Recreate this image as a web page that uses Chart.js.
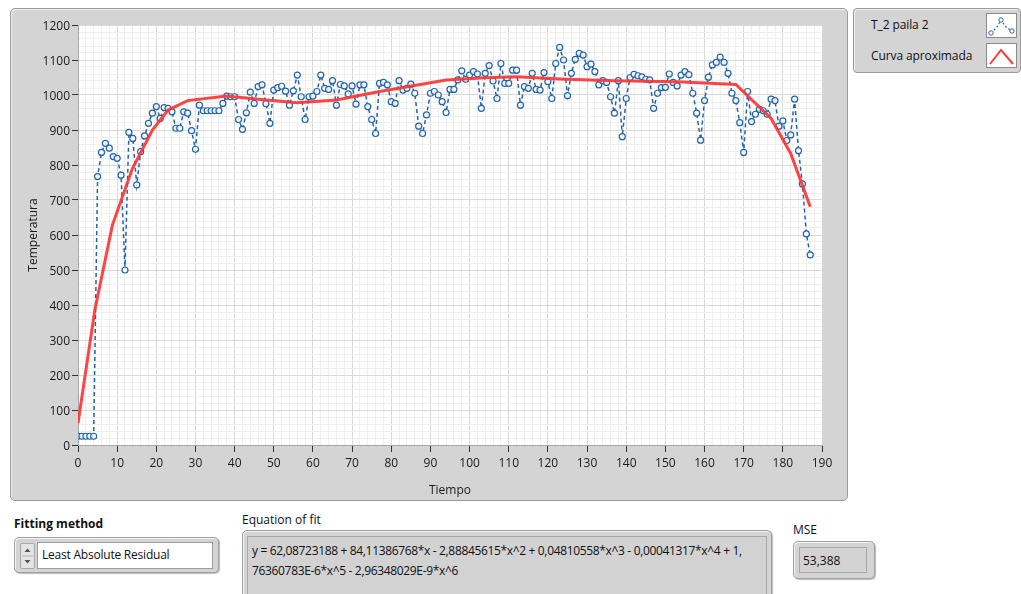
<!DOCTYPE html>
<html>
<head>
<meta charset="utf-8">
<script src="https://cdn.jsdelivr.net/npm/chart.js@4.4.1/dist/chart.umd.min.js"></script>
<style>
  body { margin: 0; background: #fff; font-family: "Open Sans", "Noto Sans", sans-serif; font-size: 12px; color: #111; }
  .abs { position: absolute; }
  #panel { left: 10px; top: 8px; width: 836px; height: 491px; background: #d4d4d4; border: 1px solid #9a9a9a; border-radius: 5px; box-shadow: inset 1px 1px 0 #efefef; }
  #chartWrap { left: 10px; top: 8px; width: 838px; height: 493px; }
  #legend { left: 853px; top: 8px; width: 166px; height: 63px; background: #d4d4d4; border: 1px solid #9a9a9a; border-radius: 4px; box-shadow: inset 1px 1px 0 #efefef; }
  .lgTxt { position: absolute; left: 17px; font-size: 12px; letter-spacing: -0.1px; }
  .lgIcon { position: absolute; left: 132px; width: 29px; height: 23px; background: #fff; border: 1px solid #8a8a8a; }
  .frame { background: #d4d4d4; border: 1px solid #a0a0a0; border-radius: 5px; box-shadow: inset 1px 1px 0 #f4f4f4, 1px 1px 1px #bbb; }
  .field { background: #fff; border: 1px solid #9c9c9c; }
  .lbl { font-size: 12px; }
</style>
</head>
<body>
<div id="panel" class="abs"></div>
<div id="chartWrap" class="abs"><canvas id="cFit" width="838" height="493"></canvas></div>

<div id="legend" class="abs">
  <div class="lgTxt" style="top:7px">T_2 paila 2</div>
  <div class="lgIcon" style="top:4px">
    <svg width="29" height="23"><polyline points="4,19 10,13 14,6 19,13 25,17" fill="none" stroke="#2a6aad" stroke-width="1.2" stroke-dasharray="2,2"/><circle cx="4" cy="19" r="2.2" fill="#fff" stroke="#2a6aad"/><circle cx="14" cy="6" r="2.2" fill="#fff" stroke="#2a6aad"/><circle cx="25" cy="17" r="2.2" fill="#fff" stroke="#2a6aad"/></svg>
  </div>
  <div class="lgTxt" style="top:38px">Curva aproximada</div>
  <div class="lgIcon" style="top:34px">
    <svg width="29" height="23"><polyline points="3,20 14,6 26,20" fill="none" stroke="#ff3a3a" stroke-width="2"/></svg>
  </div>
</div>

<div class="abs lbl" style="left:14px;top:515px;font-weight:bold">Fitting method</div>
<div class="abs frame" style="left:14px;top:537px;width:203px;height:34px"></div>
<div class="abs" style="left:20px;top:543px;width:13px;height:24px;background:#e4e4e4;border:1px solid #a8a8a8;border-radius:2px">
  <svg width="13" height="24"><path d="M3.5,8 L6.5,4.5 L9.5,8 Z" fill="#555"/><line x1="1" y1="12" x2="12" y2="12" stroke="#b0b0b0"/><path d="M3.5,16 L6.5,19.5 L9.5,16 Z" fill="#555"/></svg>
</div>
<div class="abs field" style="left:37px;top:542px;width:174px;height:25px"></div>
<div class="abs lbl" style="left:42px;top:546px;letter-spacing:-0.22px">Least Absolute Residual</div>

<div class="abs lbl" style="left:242px;top:511px">Equation of fit</div>
<div class="abs frame" style="left:242px;top:530px;width:528px;height:70px"></div>
<div class="abs" style="left:247px;top:536px;width:518px;height:60px;background:#d2d2d2;border:1px solid #a8a8a8"></div>
<div class="abs lbl" id="eqTxt" style="left:252px;top:541px;line-height:20px;white-space:pre;letter-spacing:-0.34px">y = 62,08723188 + 84,11386768*x - 2,88845615*x^2 + 0,04810558*x^3 - 0,00041317*x^4 + 1,
76360783E-6*x^5 - 2,96348029E-9*x^6</div>

<div class="abs lbl" style="left:793px;top:521px">MSE</div>
<div class="abs frame" style="left:793px;top:541px;width:80px;height:36px"></div>
<div class="abs" style="left:799px;top:547px;width:66px;height:24px;background:#d2d2d2;border:1px solid #a8a8a8"></div>
<div class="abs lbl" style="left:803px;top:552px">53,388</div>

<script>
// T_2 paila 2, one reading per unit of time (0..187)
const temps = [
  25, 25, 25, 25, 25, 767, 836, 862, 848, 824,
  819, 771, 500, 893, 876, 743, 838, 883, 919, 948,
  967, 933, 964, 962, 952, 905, 905, 952, 948, 898,
  845, 971, 955, 955, 955, 955, 955, 976, 997, 995,
  995, 930, 902, 949, 1008, 976, 1024, 1029, 975, 919,
  1014, 1021, 1025, 1011, 971, 1012, 1057, 995, 930, 995,
  997, 1010, 1057, 1019, 1016, 1041, 971, 1030, 1026, 1003,
  1026, 974, 1029, 1029, 967, 930, 890, 1033, 1036, 1029,
  981, 976, 1041, 1014, 1019, 1031, 1005, 911, 890, 943,
  1005, 1010, 1000, 981, 950, 1016, 1016, 1043, 1069, 1045,
  1057, 1067, 1060, 962, 1062, 1084, 1040, 990, 1090, 1033,
  1033, 1071, 1071, 971, 1024, 1019, 1062, 1016, 1014, 1064,
  1038, 990, 1090, 1136, 1100, 998, 1062, 1102, 1119, 1114,
  1081, 1088, 1067, 1029, 1041, 1036, 995, 948, 1041, 881,
  990, 1050, 1059, 1055, 1052, 1045, 1043, 962, 1005, 1021,
  1022, 1060, 1036, 1026, 1057, 1067, 1058, 1005, 948, 871,
  984, 1051, 1086, 1093, 1108, 1093, 1062, 1005, 984, 921,
  836, 1010, 924, 945, 959, 955, 945, 988, 984, 911,
  926, 870, 886, 988, 841, 746, 603, 543
];

// Curva aproximada, vertices
const fitX = [0, 4.3, 8.8, 13.9, 19, 23, 28, 38, 46, 56, 66, 77, 90, 94, 104, 112, 123, 137, 153, 168, 177, 182, 187];
const fitY = [62, 386, 629, 790, 900, 957, 984, 997, 988, 978, 986, 1010, 1035, 1043, 1049, 1052, 1046, 1041, 1038, 1030, 933, 833, 681];

const xTicks = [0, 10, 20, 30, 40, 50, 60, 70, 80, 90, 100, 110, 120, 130, 140, 150, 160, 170, 180, 190];
const yTicks = [0, 100, 200, 300, 400, 500, 600, 700, 800, 900, 1000, 1100, 1200];

const BLUE = '#2364a8';
const RED = 'rgba(255,52,52,0.92)';
const txt = '#1a1a1a';
const isMajor = (v, list) => list.includes(Math.round(v * 1000) / 1000);

const plotBg = {
  id: 'plotBg',
  beforeDraw(chart) {
    const { ctx, chartArea: a } = chart;
    ctx.save();
    ctx.fillStyle = '#ffffff';
    ctx.fillRect(a.left, a.top, a.right - a.left, a.bottom - a.top);
    ctx.restore();
  }
};

new Chart(document.getElementById('cFit'), {
  type: 'line',
  data: {
    datasets: [
      {
        label: 'Curva aproximada',
        data: fitX.map((x, i) => ({ x, y: fitY[i] })),
        borderColor: RED, borderWidth: 3, pointRadius: 0, tension: 0, order: 0,
      },
      {
        label: 'T_2 paila 2',
        data: temps.map((y, x) => ({ x, y })),
        borderColor: BLUE, borderWidth: 1.5, borderDash: [4, 3], tension: 0,
        pointRadius: 3, pointBorderWidth: 1.2, pointBorderColor: BLUE, pointBackgroundColor: 'rgba(255,255,255,0.85)',
        order: 1,
      },
    ],
  },
  options: {
    responsive: false, animation: false,
    layout: { padding: { top: 17, right: 26, left: 0, bottom: 0 } },
    plugins: { legend: { display: false }, tooltip: { enabled: false } },
    scales: {
      x: {
        type: 'linear', min: 0, max: 190,
        afterFit: s => { s.height = 56; },
        title: { display: true, text: 'Tiempo', color: txt, font: { family: 'Open Sans', size: 12 }, padding: { top: 0, bottom: 3 } },
        border: { color: '#a8a8a8' },
        grid: {
          color: c => isMajor(c.tick.value, xTicks) ? '#d9d9d9' : '#efefef',
          tickColor: c => isMajor(c.tick.value, xTicks) ? '#333' : 'rgba(0,0,0,0)',
          tickLength: 7, drawTicks: true,
        },
        ticks: {
          stepSize: 2, autoSkip: false, maxRotation: 0, color: txt, padding: 4,
          font: { family: 'Open Sans', size: 12 },
          callback: v => isMajor(v, xTicks) ? String(v) : '',
        },
      },
      y: {
        min: 0, max: 1200,
        afterFit: s => { s.width = 68; },
        title: { display: true, text: 'Temperatura', color: txt, font: { family: 'Open Sans', size: 12 }, padding: { bottom: 0, top: 16 } },
        border: { color: '#a8a8a8' },
        grid: {
          color: c => isMajor(c.tick.value, yTicks) ? '#d9d9d9' : '#efefef',
          tickColor: c => isMajor(c.tick.value, yTicks) ? '#333' : 'rgba(0,0,0,0)',
          tickLength: 6,
        },
        ticks: {
          stepSize: 20, autoSkip: false, color: txt, padding: 2, labelOffset: 2,
          font: { family: 'Open Sans', size: 12 },
          callback: v => isMajor(v, yTicks) ? String(v) : '',
        },
      },
    },
  },
  plugins: [plotBg],
});
</script>
</body>
</html>
